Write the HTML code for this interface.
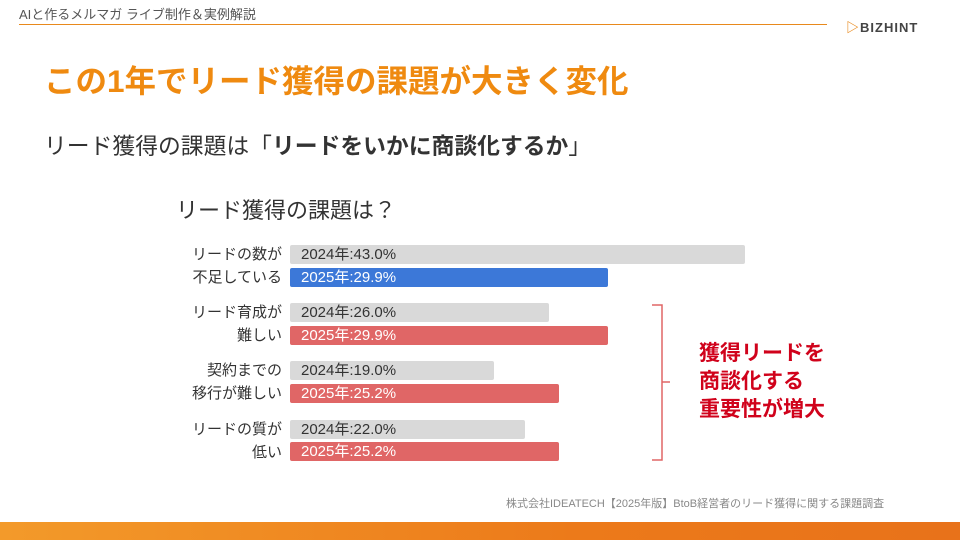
<!DOCTYPE html>
<html><head><meta charset="utf-8"><style>
body{margin:0;width:960px;height:540px;background:#fff;position:relative;overflow:hidden;font-family:"Liberation Sans","Noto Sans CJK JP",sans-serif;}
.a{position:absolute;white-space:nowrap;}
.bar{position:absolute;left:290px;height:19px;border-radius:2px;font-size:15px;line-height:19px;padding-left:11px;box-sizing:border-box;}
.g{background:#d9d9d9;color:#333;}
.b{background:#3c78d8;color:#fff;}
.r{background:#e06666;color:#fff;}
.lab{position:absolute;right:678px;font-size:15px;color:#333;text-align:right;line-height:23px;}
</style></head><body>
<div class="a" style="left:19px;top:4px;font-size:13px;color:#555;">AIと作るメルマガ ライブ制作＆実例解説</div>
<div class="a" style="left:19px;top:24px;width:808px;height:1px;background:#e8891c;"></div>
<div class="a" style="left:846px;top:17px;font-size:13px;font-weight:bold;color:#444;letter-spacing:1px;"><span style="color:#e8891c">▷</span>BIZHINT</div>
<div class="a" style="left:44px;top:56px;font-size:31.5px;font-weight:bold;color:#ef8a10;">この1年でリード獲得の課題が大きく変化</div>
<div class="a" style="left:44px;top:128px;font-size:22.8px;color:#333;">リード獲得の課題は「<b>リードをいかに商談化するか</b>」</div>
<div class="a" style="left:176px;top:193px;font-size:22px;color:#333;">リード獲得の課題は？</div>

<div class="lab" style="top:243px;">リードの数が<br>不足している</div>
<div class="bar g" style="top:245px;width:455px;">2024年:43.0%</div>
<div class="bar b" style="top:268px;width:318px;">2025年:29.9%</div>

<div class="lab" style="top:301px;">リード育成が<br>難しい</div>
<div class="bar g" style="top:303px;width:259px;">2024年:26.0%</div>
<div class="bar r" style="top:326px;width:318px;">2025年:29.9%</div>

<div class="lab" style="top:359px;">契約までの<br>移行が難しい</div>
<div class="bar g" style="top:361px;width:204px;">2024年:19.0%</div>
<div class="bar r" style="top:384px;width:269px;">2025年:25.2%</div>

<div class="lab" style="top:418px;">リードの質が<br>低い</div>
<div class="bar g" style="top:420px;width:235px;">2024年:22.0%</div>
<div class="bar r" style="top:442px;width:269px;">2025年:25.2%</div>

<svg class="a" style="left:640px;top:300px;" width="40" height="170"><path d="M12 5H22V160H12M22 82H30" fill="none" stroke="#e06666" stroke-width="1.5"/></svg>
<div class="a" style="left:699px;top:340px;font-size:21px;font-weight:bold;color:#d0021b;line-height:28px;">獲得リードを<br>商談化する<br>重要性が増大</div>

<div class="a" style="left:506px;top:495px;font-size:11px;color:#888;">株式会社IDEATECH【2025年版】BtoB経営者のリード獲得に関する課題調査</div>
<div class="a" style="left:0;top:522px;width:960px;height:18px;background:linear-gradient(90deg,#f39a2a,#ec7a1a 60%,#e8721a);"></div>
</body></html>
